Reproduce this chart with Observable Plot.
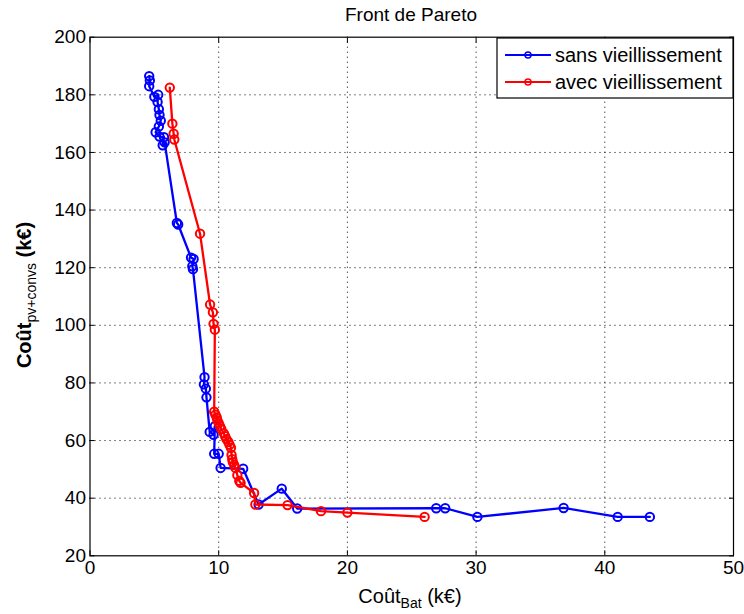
<!DOCTYPE html>
<html>
<head>
<meta charset="utf-8">
<script src="https://cdn.jsdelivr.net/npm/d3@7"></script>
<script src="https://cdn.jsdelivr.net/npm/@observablehq/plot@0.6"></script>
<style>
  html, body { margin: 0; padding: 0; background: #fff; }
  svg { font-family: "Liberation Sans", Arial, sans-serif; }
</style>
</head>
<body>
<div id="chart"></div>
<script>
const title = "Front de Pareto";
const seriesNames = ["sans vieillissement", "avec vieillissement"];
const xTicks = [0, 10, 20, 30, 40, 50];
const yTicks = [20, 40, 60, 80, 100, 120, 140, 160, 180, 200];

const blueX = [4.6, 4.65, 4.6, 5.0, 5.3, 5.25, 5.35, 5.4, 5.5, 5.35, 5.1, 5.4, 5.75, 5.65, 5.8,
  6.75, 6.85, 7.85, 8.05, 7.95, 8.0, 8.9, 8.85, 9.0, 9.05, 9.3, 9.6, 9.7, 9.65, 10.0, 10.15,
  11.9, 13.1, 14.9, 16.1, 26.9, 27.6, 30.1, 36.8, 41.0, 43.5];
const blueY = [186.5, 185, 183, 179.3, 180, 177.5, 175, 173, 171, 169, 167, 165.5, 165.3, 162.5, 163.5,
  135.5, 135, 123.5, 123, 120.5, 119.5, 82, 79.5, 78, 75, 63, 62, 65, 55.4, 55.4, 50.5,
  50.2, 37.8, 43.3, 36.4, 36.5, 36.5, 33.5, 36.6, 33.5, 33.5];

const redX = [6.2, 6.4, 6.5, 6.55, 8.55, 9.33, 9.55, 9.6, 9.7, 9.65, 9.75, 9.85, 9.9, 10.0, 10.1,
  10.2, 10.4, 10.5, 10.6, 10.75, 10.85, 10.95, 11.0, 11.05, 11.1, 11.2, 11.3, 11.45, 11.6, 11.7,
  12.75, 12.85, 15.35, 17.95, 20.0, 26.0];
const redY = [182.5, 170, 166.5, 164.5, 131.8, 107.2, 104.5, 100.5, 98.5, 70, 69, 68, 67, 66, 65,
  64, 62.5, 61.5, 60.5, 59.5, 58.5, 57.5, 55, 53.5, 52.5, 51.5, 50.5, 48, 46, 45.3,
  41.8, 37.8, 37.6, 35.5, 35, 33.5];

const blue = blueX.map((x, i) => ({x, y: blueY[i]}));
const red = redX.map((x, i) => ({x, y: redY[i]}));

const W = 744, H = 614;
const mL = 89.5, mR = 11, mT = 36.7, mB = 58.7;

const plot = Plot.plot({
  width: W,
  height: H,
  marginLeft: mL,
  marginRight: mR,
  marginTop: mT,
  marginBottom: mB,
  style: {fontFamily: "'Liberation Sans', Arial, sans-serif", fontSize: "19px", color: "#000", background: "#fff"},
  x: {domain: [0, 50]},
  y: {domain: [20, 200]},
  marks: [
    Plot.gridX(xTicks.slice(1, -1), {stroke: "#000", strokeOpacity: 1, strokeDasharray: "1,4", strokeWidth: 1}),
    Plot.gridY(yTicks.slice(1, -1), {stroke: "#000", strokeOpacity: 1, strokeDasharray: "1,4", strokeWidth: 1}),
    Plot.axisX(xTicks, {anchor: "bottom", tickSize: -5, tickPadding: 10, label: null, fontSize: 19}),
    Plot.axisX(xTicks, {anchor: "top", tickSize: -5, tickFormat: () => "", label: null}),
    Plot.axisY(yTicks, {anchor: "left", tickSize: -5, tickPadding: 9, label: null, fontSize: 19}),
    Plot.axisY(yTicks, {anchor: "right", tickSize: -5, tickFormat: () => "", label: null}),
    Plot.line(blue, {x: "x", y: "y", stroke: "#0000ff", strokeWidth: 2.3}),
    Plot.dot(blue, {x: "x", y: "y", r: 4.2, stroke: "#0000ff", strokeWidth: 2, fill: "none"}),
    Plot.line(red, {x: "x", y: "y", stroke: "#ff0000", strokeWidth: 2.3}),
    Plot.dot(red, {x: "x", y: "y", r: 4.2, stroke: "#ff0000", strokeWidth: 2, fill: "none"}),
    Plot.frame({stroke: "#000", strokeWidth: 1.2})
  ]
});

document.getElementById("chart").appendChild(plot);

const svg = d3.select(plot);
// Title
svg.append("text").attr("x", 411).attr("y", 21).attr("text-anchor", "middle")
  .attr("font-size", 19).attr("fill", "#000").text(title);

// X label
const xl = svg.append("text").attr("x", 410).attr("y", 603).attr("text-anchor", "middle")
  .attr("font-size", 20).attr("fill", "#000");
xl.append("tspan").text("Coût");
xl.append("tspan").attr("font-size", 14).attr("dy", 5).text("Bat");
xl.append("tspan").attr("dy", -5).text(" (k€)");

// Y label
const yl = svg.append("text").attr("transform", "translate(31,295) rotate(-90)")
  .attr("text-anchor", "middle").attr("font-size", 20).attr("font-weight", "bold").attr("fill", "#000");
yl.append("tspan").text("Coût");
yl.append("tspan").attr("font-size", 14).attr("font-weight", "normal").attr("dy", 5).text("pv+convs");
yl.append("tspan").attr("dy", -5).text(" (k€)");

// Legend
const lg = svg.append("g");
lg.append("rect").attr("x", 497).attr("y", 38).attr("width", 236).attr("height", 60)
  .attr("fill", "#fff").attr("stroke", "#000").attr("stroke-width", 1.2);
const colors = ["#0000ff", "#ff0000"];
seriesNames.forEach((name, i) => {
  const yy = 55 + i * 27;
  lg.append("line").attr("x1", 505).attr("x2", 551).attr("y1", yy).attr("y2", yy)
    .attr("stroke", colors[i]).attr("stroke-width", 2);
  lg.append("circle").attr("cx", 528).attr("cy", yy).attr("r", 3)
    .attr("fill", "none").attr("stroke", colors[i]).attr("stroke-width", 1.5);
  lg.append("text").attr("x", 555).attr("y", yy + 7).attr("font-size", 20)
    .attr("text-anchor", "start").attr("fill", "#000").text(name);
});
</script>
</body>
</html>
